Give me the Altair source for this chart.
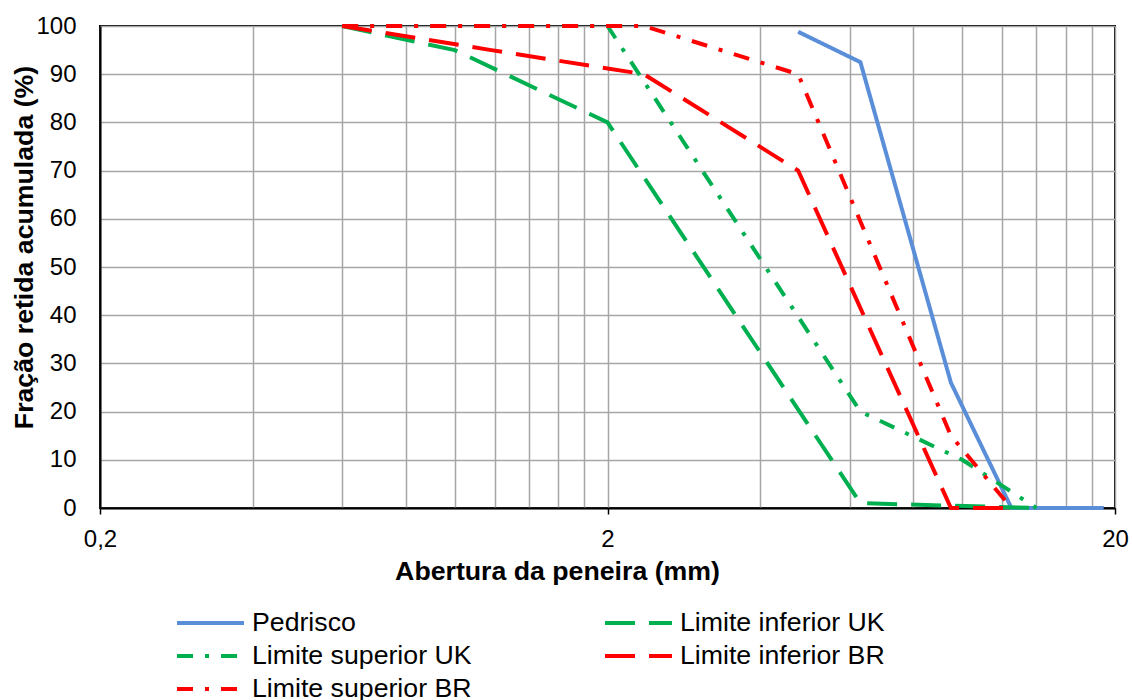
import altair as alt
import pandas as pd

# ---- data ----
series_names = ["Pedrisco", "Limite inferior UK", "Limite superior UK",
                "Limite inferior BR", "Limite superior BR"]
# legend fills columns first, so this order gives the reference's row layout
legend_order = ["Pedrisco", "Limite superior UK", "Limite superior BR",
                "Limite inferior UK", "Limite inferior BR"]

pedrisco_x = [4.75, 6.3, 9.5, 12.5, 19]
pedrisco_y = [98.8, 92.5, 26, 0, 0]

uk_inf_x = [0.6, 1.0, 2.0, 6.3, 14]
uk_inf_y = [100, 95, 80, 1, 0]

uk_sup_x = [0.6, 2.0, 6.3, 10, 14]
uk_sup_y = [100, 100, 20, 10, 0]

br_inf_x = [0.6, 1.18, 2.36, 4.75, 9.5, 12.5]
br_inf_y = [100, 95, 90, 70, 0, 0]

br_sup_x = [0.6, 1.18, 2.36, 4.75, 9.5, 12.5]
br_sup_y = [100, 100, 100, 90, 15, 0]

x_grid_values = [0.2, 0.4, 0.6, 0.8, 1.0, 1.2, 1.4, 1.6, 1.8,
                 2, 4, 6, 8, 10, 12, 14, 16, 18, 20]
y_tick_values = [0, 10, 20, 30, 40, 50, 60, 70, 80, 90, 100]

color_of = {"Pedrisco": "#5A8ED8", "Limite inferior UK": "#00B050",
            "Limite superior UK": "#00B050", "Limite inferior BR": "#FF0000",
            "Limite superior BR": "#FF0000"}
dash_of = {"Pedrisco": [1, 0], "Limite inferior UK": [30, 14],
           "Limite superior UK": [16, 12, 4, 12], "Limite inferior BR": [30, 14],
           "Limite superior BR": [16, 12, 4, 12]}

rows = []
for name, xs, ys in zip(series_names,
                        [pedrisco_x, uk_inf_x, uk_sup_x, br_inf_x, br_sup_x],
                        [pedrisco_y, uk_inf_y, uk_sup_y, br_inf_y, br_sup_y]):
    for i, (xv, yv) in enumerate(zip(xs, ys)):
        rows.append({"serie": name, "abertura": xv, "retida": yv, "ordem": i})
df = pd.DataFrame(rows)

FONT = "Liberation Sans"

legend = alt.Legend(
    title=None, orient="none", legendX=75, legendY=582,
    columns=2, columnPadding=131, rowPadding=3, clipHeight=30,
    symbolType="stroke", symbolSize=4489, symbolStrokeWidth=4,
    labelFont=FONT, labelFontSize=26.7, labelColor="black", labelOffset=6,
    labelLimit=400, padding=0,
)

chart = alt.Chart(df).mark_line(strokeWidth=4, strokeCap="butt").encode(
    x=alt.X(
        "abertura:Q",
        scale=alt.Scale(type="log", domain=[0.2, 20], nice=False),
        axis=alt.Axis(
            values=x_grid_values,
            title="Abertura da peneira (mm)",
            labelExpr="datum.value == 0.2 ? '0,2' : (datum.value == 2 ? '2' : (datum.value == 20 ? '20' : ''))",
            labelOverlap=False, labelFlush=False,
            labelFont=FONT, labelFontSize=24, labelColor="black",
            labelPadding=13, tickSize=6, tickColor="black", tickWidth=1.5,
            tickOpacity={"condition": {"test": "datum.value == 0.2 || datum.value == 2 || datum.value == 20", "value": 1}, "value": 0},
            grid=True, gridColor="#A6A6A6", gridWidth=1.5,
            domainColor="black", domainWidth=2,
            titleFont=FONT, titleFontSize=26.7, titleFontWeight="bold", titleColor="black",
            titleX=457, titleY=63, titleBaseline="middle", titleAlign="center",
        ),
    ),
    y=alt.Y(
        "retida:Q",
        scale=alt.Scale(domain=[0, 100], nice=False),
        axis=alt.Axis(
            values=y_tick_values,
            title="Fração retida acumulada (%)",
            labelFont=FONT, labelFontSize=24, labelColor="black",
            labelPadding=24, ticks=False,
            grid=True, gridColor="#A6A6A6", gridWidth=1.5,
            domainColor="black", domainWidth=2,
            titleFont=FONT, titleFontSize=26.7, titleFontWeight="bold", titleColor="black",
            titleX=-76, titleY=221, titleAngle=270, titleBaseline="middle", titleAlign="center",
        ),
    ),
    color=alt.Color("serie:N", sort=legend_order,
                    scale=alt.Scale(domain=legend_order,
                                    range=[color_of[n] for n in legend_order]),
                    legend=legend),
    strokeDash=alt.StrokeDash("serie:N", sort=legend_order,
                              scale=alt.Scale(domain=legend_order,
                                              range=[dash_of[n] for n in legend_order]),
                              legend=legend),
    order="ordem:Q",
).properties(
    width=1015, height=482,
    autosize=alt.AutoSizeParams(type="none"),
    padding={"left": 100, "top": 26, "right": 17, "bottom": 192},
    background="white",
).configure_view(stroke="black", strokeWidth=2)

chart.save("out.html", embed_options={"renderer": "svg", "actions": False})
